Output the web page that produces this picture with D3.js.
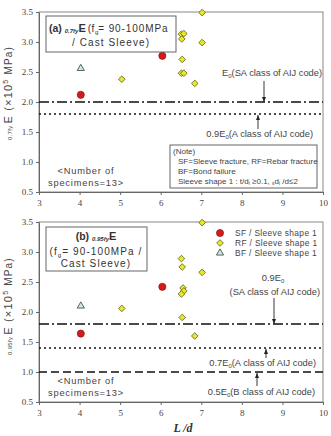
<!DOCTYPE html>
<html><head><meta charset="utf-8">
<script src="https://cdn.jsdelivr.net/npm/d3@7"></script>
<style>body{margin:0;background:#fff}svg{display:block}</style>
</head><body>
<script>
// ---- data ----
const xTicks = [3,4,5,6,7,8,9,10];
const yTicks = [0.5,1.0,1.5,2.0,2.5,3.0,3.5];
// panel (a) 0.7fyE
const aSF = [[4.03,2.12],[6.04,2.77]];
const aRF = [[5.04,2.38],[6.51,3.13],[6.57,3.14],[6.52,3.05],[6.53,2.71],[6.51,2.48],[6.57,2.48],[6.84,2.31],[7.02,3.49],[7.02,2.99]];
const aBF = [[4.03,2.56]];
const aLines = [{v:2.0,dash:"10,3,2,3"},{v:1.8,dash:"2,3"}];
// panel (b) 0.95fyE
const bSF = [[4.03,1.64],[6.04,2.42]];
const bRF = [[5.04,2.06],[6.51,2.89],[6.53,2.75],[7.02,2.66],[6.55,2.40],[6.57,2.35],[6.51,2.30],[6.53,1.91],[6.84,1.60],[7.02,3.49]];
const bBF = [[4.03,2.10]];
const bLines = [{v:1.8,dash:"10,3,2,3"},{v:1.4,dash:"2,3"},{v:1.0,dash:"8,4"}];
const legendLabels = ["SF / Sleeve shape 1","RF / Sleeve shape 1","BF / Sleeve shape 1"];

const W=331,H=436;
const svg=d3.select("body").append("svg").attr("width",W).attr("height",H);
const sans="'Liberation Sans', Arial, sans-serif";
const serif="'Liberation Serif','Times New Roman',serif";
const txtCol="#444";

const x=d3.scaleLinear().domain([3,10]).range([39,323]);

function panel(top, SF, RF, BF, lines){
  const y=d3.scaleLinear().domain([0.5,3.5]).range([top+180,top]);
  const g=svg.append("g");
  g.append("rect").attr("x",x(3)).attr("y",y(3.5)).attr("width",x(10)-x(3)).attr("height",y(0.5)-y(3.5))
    .attr("fill","none").attr("stroke","#888").attr("stroke-width",1);
  const ya=g.append("g").attr("transform",`translate(${x(3)},0)`)
    .call(d3.axisLeft(y).tickValues(yTicks).tickFormat(d3.format(".1f")).tickSize(3).tickSizeOuter(0));
  const xa=g.append("g").attr("transform",`translate(0,${y(0.5)})`)
    .call(d3.axisBottom(x).tickValues(xTicks).tickFormat(d3.format("d")).tickSize(3).tickSizeOuter(0));
  [ya,xa].forEach(a=>{a.select(".domain").attr("stroke","#666");
    a.selectAll(".tick line").attr("stroke","#666");
    a.selectAll("text").attr("font-family",serif).attr("font-size",9).attr("fill","#444");});
  xa.selectAll("text").attr("dy","0.9em");
  g.selectAll(".ref").data(lines).join("line")
    .attr("x1",x(3)).attr("x2",x(10)).attr("y1",d=>y(d.v)).attr("y2",d=>y(d.v))
    .attr("stroke","#111").attr("stroke-width",1.3).attr("stroke-dasharray",d=>d.dash);
  g.selectAll(".rf").data(RF).join("path")
    .attr("d",d3.symbol(d3.symbolSquare,22)())
    .attr("transform",d=>`translate(${x(d[0])},${y(d[1])}) rotate(45)`)
    .attr("fill","#e8e82a").attr("stroke","#666622").attr("stroke-width",0.8);
  g.selectAll(".sf").data(SF).join("circle")
    .attr("cx",d=>x(d[0])).attr("cy",d=>y(d[1])).attr("r",3.6)
    .attr("fill","#d41a1a").attr("stroke","#7a1010").attr("stroke-width",0.6);
  g.selectAll(".bf").data(BF).join("path")
    .attr("d",d3.symbol(d3.symbolTriangle,22)())
    .attr("transform",d=>`translate(${x(d[0])},${y(d[1])})`)
    .attr("fill","#d8e4e0").attr("stroke","#4a6a60").attr("stroke-width",1);
  return {g,y};
}

function arrow(g,xp,y1,y2){
  g.append("line").attr("x1",xp).attr("x2",xp).attr("y1",y1).attr("y2",y2).attr("stroke","#222").attr("stroke-width",0.9);
  const dir=y2>y1?-1:1;
  g.append("path").attr("d",`M${xp},${y2} L${xp-2},${y2+dir*5} L${xp+2},${y2+dir*5}Z`).attr("fill","#222");
}

function eText(g,xp,yp,pre,post,anchor){
  const t=g.append("text").attr("x",xp).attr("y",yp).attr("font-family",sans).attr("font-size",9.3)
    .attr("fill",txtCol).attr("text-anchor",anchor||"start");
  t.append("tspan").text(pre+"E");
  t.append("tspan").attr("font-size",6).attr("dy",2).text("0");
  t.append("tspan").attr("dy",-2).text(post);
  return t;
}

function specimens(g,yp){
  ["<Number of","specimens=13>"].forEach((s,i)=>{
    g.append("text").attr("x",86).attr("y",yp+i*11.5).attr("text-anchor","middle")
      .attr("font-family",sans).attr("font-size",9.3).attr("letter-spacing",0.8).attr("fill",txtCol).text(s);
  });
}

function yLabel(cx,cy,sub){
  const t=svg.append("text").attr("transform",`translate(${cx},${cy}) rotate(-90)`).attr("text-anchor","middle")
    .attr("font-family",sans).attr("fill",txtCol).attr("font-size",10).attr("letter-spacing",1.2);
  t.append("tspan").attr("font-size",6).attr("dy",0).attr("letter-spacing",0.3).text(sub+" ");
  t.append("tspan").attr("font-size",11).text("E (×10");
  t.append("tspan").attr("font-size",7).attr("dy",-4).text("5");
  t.append("tspan").attr("dy",4).attr("font-size",10).text(" MPa)");
}

// ---- panel a ----
const A=panel(12,aSF,aRF,aBF,aLines);
{
  const g=A.g, y=A.y;
  g.append("rect").attr("x",46).attr("y",16).attr("width",130).attr("height",36).attr("fill","#fff").attr("stroke","#555").attr("stroke-width",0.9);
  const t=g.append("text").attr("x",49).attr("y",32).attr("font-family",sans).attr("fill","#333");
  t.append("tspan").attr("font-weight","bold").attr("font-size",10.5).text("(a) ");
  t.append("tspan").attr("font-weight","bold").attr("font-style","italic").attr("font-size",6).attr("dy",1).text("0.7fy");
  t.append("tspan").attr("font-weight","bold").attr("font-size",11).attr("dy",-1).text("E");
  t.append("tspan").attr("font-size",10).attr("dx",2).attr("letter-spacing",0.5).text("(f");
  t.append("tspan").attr("font-size",6).attr("dy",2).text("g");
  t.append("tspan").attr("font-size",10).attr("dy",-2).attr("letter-spacing",0.9).text("= 90-100MPa");
  g.append("text").attr("x",111).attr("y",46).attr("text-anchor","middle").attr("font-family",sans)
    .attr("font-size",10).attr("letter-spacing",1.1).attr("fill","#333").text("/ Cast Sleeve)");

  eText(g,322,76,"","(SA class of AIJ code)","end");
  arrow(g,264,81,y(2.0));
  eText(g,313,137,"0.9","(A class of AIJ code)","end");
  arrow(g,258,129,y(1.8)+1);

  g.append("rect").attr("x",170).attr("y",145).attr("width",147).attr("height",43).attr("fill","#fff").attr("stroke","#555").attr("stroke-width",0.9);
  const nf="'Liberation Sans Narrow','Liberation Sans',Arial,sans-serif";
  const notes=[{s:"(Note)",dx:0},{s:"SF=Sleeve fracture, RF=Rebar fracture",dx:5},{s:"BF=Bond failure",dx:5}];
  notes.forEach((n,i)=>g.append("text").attr("x",173+n.dx).attr("y",154+i*10).attr("font-family",nf)
    .attr("font-size",8).attr("fill",txtCol).text(n.s));
  const t4=g.append("text").attr("x",178).attr("y",184).attr("font-family",nf).attr("font-size",8).attr("fill",txtCol);
  t4.append("tspan").text("Sleeve shape 1 : t/d");
  t4.append("tspan").attr("font-size",5).attr("dy",1).text("i");
  t4.append("tspan").attr("dy",-1).text(" ≥0.1, ");
  t4.append("tspan").attr("font-size",5).attr("dy",1).text("s");
  t4.append("tspan").attr("dy",-1).text("d");
  t4.append("tspan").attr("font-size",5).attr("dy",1).text("i");
  t4.append("tspan").attr("dy",-1).text(" /d≤2");

  specimens(g,174);
}
yLabel(12,93,"0.7fy");

// ---- panel b ----
const B=panel(222,bSF,bRF,bBF,bLines);
{
  const g=B.g, y=B.y;
  g.append("rect").attr("x",46).attr("y",227).attr("width",101).attr("height",44).attr("fill","#fff").attr("stroke","#555").attr("stroke-width",0.9);
  const t=g.append("text").attr("x",96).attr("y",240).attr("text-anchor","middle").attr("font-family",sans).attr("fill","#333");
  t.append("tspan").attr("font-weight","bold").attr("font-size",10.5).text("(b) ");
  t.append("tspan").attr("font-weight","bold").attr("font-style","italic").attr("font-size",6).attr("dy",1).text("0.95fy");
  t.append("tspan").attr("font-weight","bold").attr("font-size",11).attr("dy",-1).text("E");
  const t2=g.append("text").attr("x",96).attr("y",255).attr("text-anchor","middle").attr("font-family",sans)
    .attr("font-size",10).attr("letter-spacing",1.1).attr("fill","#333");
  t2.append("tspan").text("(f");
  t2.append("tspan").attr("font-size",6).attr("dy",2).text("g");
  t2.append("tspan").attr("dy",-2).text("= 90-100MPa /");
  g.append("text").attr("x",96).attr("y",267).attr("text-anchor","middle").attr("font-family",sans)
    .attr("font-size",10).attr("letter-spacing",1.1).attr("fill","#333").text("Cast Sleeve)");

  const ly=[233,243,253];
  g.append("circle").attr("cx",220).attr("cy",ly[0]).attr("r",3.6).attr("fill","#d41a1a").attr("stroke","#7a1010").attr("stroke-width",0.6);
  g.append("path").attr("d",d3.symbol(d3.symbolSquare,22)()).attr("transform",`translate(220,${ly[1]}) rotate(45)`)
    .attr("fill","#e8e82a").attr("stroke","#666622").attr("stroke-width",0.8);
  g.append("path").attr("d",d3.symbol(d3.symbolTriangle,22)()).attr("transform",`translate(220,${ly[2]})`)
    .attr("fill","#d8e4e0").attr("stroke","#4a6a60").attr("stroke-width",1);
  legendLabels.forEach((s,i)=>g.append("text").attr("x",235).attr("y",ly[i]+3.2).attr("font-family",sans)
    .attr("font-size",8.4).attr("letter-spacing",0.35).attr("fill",txtCol).text(s));

  eText(g,273,281,"0.9","","middle");
  g.append("text").attr("x",320).attr("y",295).attr("text-anchor","end").attr("font-family",sans).attr("font-size",9.3)
    .attr("fill",txtCol).text("(SA class of AIJ code)");
  arrow(g,274,298,y(1.8));
  eText(g,316,366,"0.7","(A class of AIJ code)","end");
  arrow(g,266,358,y(1.4)+1);
  eText(g,315,395,"0.5","(B class of AIJ code)","end");
  arrow(g,257,386,y(1.0)+1);

  specimens(g,384);
}
yLabel(12,306,"0.95fy");

svg.append("text").attr("x",183).attr("y",432).attr("text-anchor","middle").attr("font-family",serif)
  .attr("font-weight","bold").attr("font-style","italic").attr("font-size",12).attr("fill","#333").text("L /d");
</script>
</body></html>
